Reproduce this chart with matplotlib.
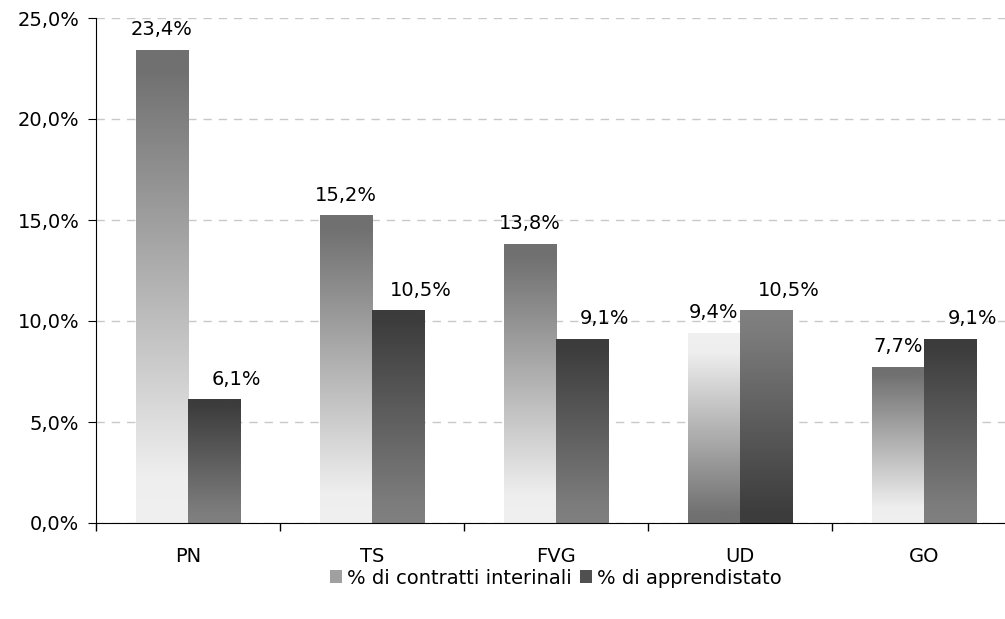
import numpy as np
import matplotlib
matplotlib.use('Agg')
import matplotlib.pyplot as plt
from matplotlib.colors import LinearSegmentedColormap
from matplotlib.patches import Patch

provinces = ['PN', 'TS', 'FVG', 'UD', 'GO']
interinali = [23.4, 15.2, 13.8, 9.4, 7.7]
apprendistato = [6.1, 10.5, 9.1, 10.5, 9.1]
series_names = ['% di contratti interinali', '% di apprendistato']
yticks = [0, 5, 10, 15, 20, 25]

# gradient fills, bottom -> top
cmap_light = LinearSegmentedColormap.from_list(
    'light', [(0.0, '#f0f0f0'), (0.1, '#eeeeee'), (0.96, '#707070'), (1.0, '#707070')])
cmap_dark = LinearSegmentedColormap.from_list(
    'dark', [(0.0, '#808080'), (0.1, '#7c7c7c'), (0.96, '#3c3c3c'), (1.0, '#3c3c3c')])
# UD has its fills drawn upside down
flipped = [False, False, False, True, False]

FS = 14
plt.rcParams['font.family'] = ['DejaVu Sans']
fig = plt.figure(figsize=(10.05, 6.19), dpi=100)
ax = fig.add_axes([96 / 1005, 1 - 523 / 619, 920 / 1005, 505 / 619])

x = np.arange(len(provinces))
w = 0.285
bars1 = ax.bar(x - w / 2, interinali, w, color='none', zorder=3)
bars2 = ax.bar(x + w / 2, apprendistato, w, color='none', zorder=3)

grad = np.linspace(0, 1, 256).reshape(-1, 1)
for bars, cmap in [(bars1, cmap_light), (bars2, cmap_dark)]:
    for i, r in enumerate(bars):
        x0, y0 = r.get_x(), r.get_y()
        g = grad[::-1] if flipped[i] else grad
        ax.imshow(g, extent=[x0, x0 + r.get_width(), y0, y0 + r.get_height()],
                  origin='lower', aspect='auto', cmap=cmap, vmin=0, vmax=1, zorder=2)

# value labels; the second series sits a little to the right
for bars, vals, dx in [(bars1, interinali, 0), (bars2, apprendistato, 16)]:
    for r, v in zip(bars, vals):
        ax.annotate(f'{v:.1f}%'.replace('.', ','),
                    (r.get_x() + r.get_width() / 2, r.get_height()),
                    xytext=(dx, 8), textcoords='offset points',
                    ha='center', va='bottom', fontsize=FS, color='black')

ax.set_xlim(-0.5, len(provinces) - 0.5)
ax.set_ylim(0, 25)
ax.set_yticks(yticks)
ax.set_yticklabels([f'{t:.1f}%'.replace('.', ',') for t in yticks], fontsize=FS)
ax.set_xticks(x)
ax.set_xticklabels(provinces, fontsize=FS)
ax.set_xticks(np.arange(len(provinces) + 1) - 0.5, minor=True)
ax.tick_params(axis='x', which='major', length=0, pad=17)
ax.tick_params(axis='x', which='minor', length=6, direction='out', width=1)
ax.tick_params(axis='y', length=6, direction='out', pad=6)

ax.grid(axis='y', color='#c8c8c8', linestyle=(0, (6, 5)), linewidth=1)
ax.set_axisbelow(True)
for s in ['top', 'right']:
    ax.spines[s].set_visible(False)
ax.spines['left'].set_color('black')
ax.spines['bottom'].set_color('black')

handles = [Patch(facecolor='#a0a0a0', edgecolor='none'),
           Patch(facecolor='#505050', edgecolor='none')]
fig.legend(handles, series_names, loc='center', bbox_to_anchor=(556 / 1005, 1 - 578 / 619),
           ncol=2, frameon=False, fontsize=FS, handlelength=0.6, handleheight=0.6,
           handletextpad=0.3, columnspacing=0.4)

fig.savefig('out.png', dpi=100)
